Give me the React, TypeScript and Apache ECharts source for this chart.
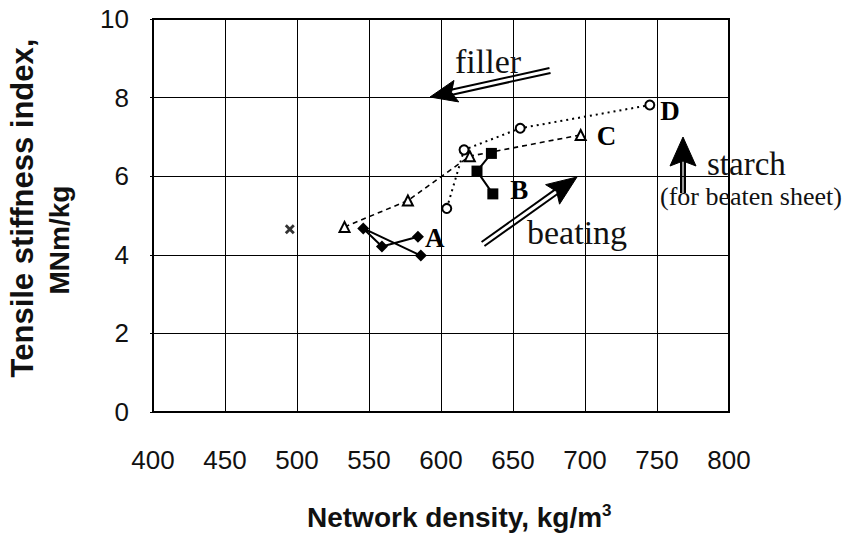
import React, { useEffect, useRef } from "react";
import * as echarts from "echarts";

// Network density (kg/m3), tensile stiffness index (MNm/kg)
const seriesA: number[][] = [[584, 4.46], [559, 4.21], [546, 4.67], [586, 3.98]];
const seriesB: number[][] = [[635, 6.58], [625, 6.13], [636, 5.55]];
const seriesC: number[][] = [[533, 4.71], [577, 5.38], [620, 6.51], [697, 7.05]];
const seriesD: number[][] = [[604, 5.18], [616, 6.67], [655, 7.22], [745, 7.81]];
const reference: number[][] = [[495, 4.65]];

const seriesNames = ["A", "B", "C", "D"];
const xRange = [400, 800];
const yRange = [0, 10];
const xTitle = "Network density, kg/m";
const xTitleSup = "3";
const yTitle1 = "Tensile stiffness index,";
const yTitle2 = "MNm/kg";
const annotations = ["filler", "beating", "starch", "(for beaten sheet)"];

const SANS = '"Liberation Sans", Arial, Helvetica, sans-serif';
const SERIF = '"Liberation Serif", "Times New Roman", Times, serif';

function arrow(
  tail: number[],
  tip: number[],
  headLen: number,
  headHalf: number,
  gap: number,
  lw: number
) {
  const dx = tip[0] - tail[0];
  const dy = tip[1] - tail[1];
  const L = Math.sqrt(dx * dx + dy * dy);
  const ux = dx / L;
  const uy = dy / L;
  const nx = -uy;
  const ny = ux;
  const bx = tip[0] - ux * headLen;
  const by = tip[1] - uy * headLen;
  const ex = bx + ux * 6;
  const ey = by + uy * 6;
  const els: any[] = [];
  [1, -1].forEach((s) => {
    els.push({
      type: "line",
      shape: {
        x1: tail[0] + nx * gap * s,
        y1: tail[1] + ny * gap * s,
        x2: ex + nx * gap * s,
        y2: ey + ny * gap * s,
      },
      style: { stroke: "#000", lineWidth: lw },
      z: 100,
    });
  });
  els.push({
    type: "polygon",
    shape: {
      points: [
        [tip[0], tip[1]],
        [bx + nx * headHalf, by + ny * headHalf],
        [bx + ux * 5, by + uy * 5],
        [bx - nx * headHalf, by - ny * headHalf],
      ],
    },
    style: { fill: "#000", stroke: "#000", lineWidth: 1 },
    z: 101,
  });
  return els;
}

function labelled(data: number[][], idx: number, name: string, distance: number, offset: number[]) {
  return data.map((p, i) =>
    i === idx
      ? {
          value: p,
          label: {
            show: true,
            formatter: name,
            position: "right",
            distance,
            offset,
            fontFamily: SERIF,
            fontWeight: "bold",
            fontSize: 27,
            color: "#000",
          },
        }
      : { value: p }
  );
}

export default function App() {
  const ref = useRef<HTMLDivElement>(null);

  useEffect(() => {
    document.body.style.margin = "0";
    const chart = echarts.init(ref.current!, null, { renderer: "svg" });

    const graphic: any[] = [
      {
        type: "text",
        x: 22,
        y: 208,
        rotation: Math.PI / 2,
        style: {
          text: yTitle1,
          fontFamily: SANS,
          fontWeight: "bold",
          fontSize: 31,
          fill: "#111",
          align: "center",
          verticalAlign: "middle",
        },
      },
      {
        type: "text",
        x: 59,
        y: 240,
        rotation: Math.PI / 2,
        style: {
          text: yTitle2,
          fontFamily: SANS,
          fontWeight: "bold",
          fontSize: 28,
          fill: "#111",
          align: "center",
          verticalAlign: "middle",
        },
      },
      {
        type: "text",
        x: 307,
        y: 517,
        style: {
          text: "{a|" + xTitle + "}{s|" + xTitleSup + "}",
          fill: "#111",
          align: "left",
          verticalAlign: "middle",
          rich: {
            a: {
              fontFamily: SANS,
              fontWeight: "bold",
              fontSize: 28,
              lineHeight: 30,
              fill: "#111",
            },
            s: {
              fontFamily: SANS,
              fontWeight: "bold",
              fontSize: 17,
              lineHeight: 17,
              verticalAlign: "top",
              fill: "#111",
            },
          },
        },
      },
      {
        type: "text",
        x: 455,
        y: 61,
        style: {
          text: annotations[0],
          fontFamily: SERIF,
          fontSize: 34,
          fill: "#111",
          align: "left",
          verticalAlign: "middle",
        },
        z: 100,
      },
      {
        type: "text",
        x: 527,
        y: 232,
        style: {
          text: annotations[1],
          fontFamily: SERIF,
          fontSize: 34,
          fill: "#111",
          align: "left",
          verticalAlign: "middle",
        },
        z: 100,
      },
      {
        type: "text",
        x: 707,
        y: 164,
        style: {
          text: annotations[2],
          fontFamily: SERIF,
          fontSize: 33,
          fill: "#111",
          align: "left",
          verticalAlign: "middle",
        },
        z: 100,
      },
      {
        type: "text",
        x: 660,
        y: 196,
        style: {
          text: annotations[3],
          fontFamily: SERIF,
          fontSize: 26,
          fill: "#111",
          align: "left",
          verticalAlign: "middle",
        },
        z: 100,
      },
      ...arrow([550, 70.5], [430, 97], 27, 11, 2.5, 2),
      ...arrow([483, 244], [577, 177], 30, 12, 2.5, 2),
      ...arrow([683, 193], [683, 137], 29, 13, 1.8, 2.4),
    ];

    chart.setOption({
      animation: false,
      backgroundColor: "#fff",
      grid: {
        left: 153,
        right: 120,
        top: 19,
        bottom: 126,
        show: true,
        borderColor: "#000",
        borderWidth: 2,
        backgroundColor: "transparent",
      },
      xAxis: {
        type: "value",
        min: xRange[0],
        max: xRange[1],
        interval: 50,
        axisLine: { show: true, lineStyle: { color: "#000", width: 2 } },
        axisTick: { show: false },
        splitLine: { show: true, lineStyle: { color: "#000", width: 1 } },
        axisLabel: {
          fontFamily: SANS,
          fontSize: 26,
          color: "#111",
          margin: 35,
        },
      },
      yAxis: {
        type: "value",
        min: yRange[0],
        max: yRange[1],
        interval: 2,
        axisLine: { show: true, lineStyle: { color: "#000", width: 2 } },
        axisTick: { show: true, length: 3, lineStyle: { color: "#000", width: 1 } },
        splitLine: { show: true, lineStyle: { color: "#000", width: 1 } },
        axisLabel: {
          fontFamily: SANS,
          fontSize: 26,
          color: "#111",
          margin: 24,
        },
      },
      series: [
        {
          name: seriesNames[0],
          type: "line",
          data: labelled(seriesA, 0, seriesNames[0], 1, [0, 1]),
          symbol: "diamond",
          symbolSize: 12,
          showSymbol: true,
          showAllSymbol: true,
          itemStyle: { color: "#000" },
          lineStyle: { color: "#000", width: 2 },
          z: 5,
        },
        {
          name: seriesNames[1],
          type: "line",
          data: labelled(seriesB, 2, seriesNames[1], 12, [0, -4]),
          symbol: "rect",
          symbolSize: 11,
          showSymbol: true,
          showAllSymbol: true,
          itemStyle: { color: "#000" },
          lineStyle: { color: "#000", width: 2 },
          z: 5,
        },
        {
          name: seriesNames[2],
          type: "line",
          data: labelled(seriesC, 3, seriesNames[2], 10, [0, 1]),
          symbol: "triangle",
          symbolSize: 10,
          showSymbol: true,
          showAllSymbol: true,
          itemStyle: { color: "#fff", borderColor: "#000", borderWidth: 2 },
          lineStyle: { color: "#000", width: 1.6, type: [5, 4] },
          z: 4,
        },
        {
          name: seriesNames[3],
          type: "line",
          data: labelled(seriesD, 3, seriesNames[3], 5, [0, 6]),
          symbol: "circle",
          symbolSize: 9,
          showSymbol: true,
          showAllSymbol: true,
          itemStyle: { color: "#fff", borderColor: "#000", borderWidth: 2 },
          lineStyle: { color: "#000", width: 2, type: [2, 4] },
          z: 4,
        },
        {
          name: "reference",
          type: "scatter",
          data: reference,
          symbol:
            "path://M0,2L2,0L5,3L8,0L10,2L7,5L10,8L8,10L5,7L2,10L0,8L3,5Z",
          symbolSize: 10,
          itemStyle: { color: "#000" },
          z: 5,
        },
      ],
      graphic,
    });

    return () => {
      chart.dispose();
    };
  }, []);

  return (
    <div
      ref={ref}
      style={{ position: "absolute", left: 0, top: 0, width: 849, height: 538 }}
    />
  );
}
